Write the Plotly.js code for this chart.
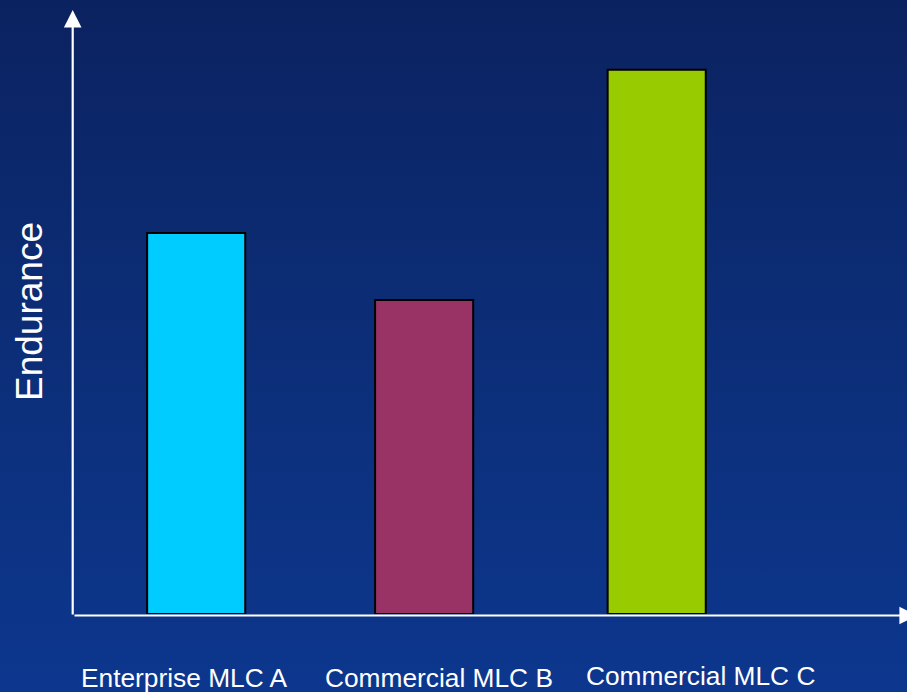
<!DOCTYPE html>
<html>
<head>
<meta charset="utf-8">
<script src="https://cdn.plot.ly/plotly-3.0.1.min.js"></script>
<style>
  html, body { margin: 0; padding: 0; width: 907px; height: 692px; overflow: hidden; }
  body { background: linear-gradient(to bottom, #0b2260 0%, #0c2e78 50%, #0c378e 100%); }
  #chart { width: 907px; height: 692px; }
</style>
</head>
<body>
<div id="chart"></div>
<script>
// Data (relative endurance, no scale given)
const categories = ['Enterprise MLC A', 'Commercial MLC B', 'Commercial MLC C'];
const endurance = [70, 57.7, 100];
const barColors = ['#00CCFF', '#993366', '#99CC00'];
const yTitle = 'Endurance';

const labelShiftX = [-12, 13, 44];
const labelShiftY = [-64, -64, -62];

const trace = {
  type: 'bar',
  x: categories,
  y: endurance,
  width: 0.426,
  offset: [-0.213, -0.223, -0.213],
  marker: { color: barColors, line: { color: '#000000', width: 2 } },
  hoverinfo: 'none',
  showlegend: false
};

const annotations = categories.map((c, i) => ({
  x: c, xref: 'x', y: 0, yref: 'paper',
  text: c, showarrow: false,
  xanchor: 'center', yanchor: 'middle',
  xshift: labelShiftX[i], yshift: labelShiftY[i],
  font: { family: 'Liberation Sans, Arial, sans-serif', size: 26.3, color: '#ffffff' }
}));

// y-axis title
annotations.push({
  x: 0, xref: 'paper', y: 0.5, yref: 'paper',
  text: yTitle, showarrow: false, textangle: -90,
  xanchor: 'center', yanchor: 'middle', xshift: -44,
  font: { family: 'Liberation Sans, Arial, sans-serif', size: 37, color: '#ffffff' }
});

// axis arrows
annotations.push({
  x: 0, xref: 'paper', y: 1, yref: 'paper', text: '', xshift: -0.3,
  showarrow: true, arrowhead: 2, arrowsize: 1.6, arrowwidth: 2.2, arrowcolor: '#ffffff',
  ax: 0, ay: 606, axref: 'pixel', ayref: 'pixel'
});
annotations.push({
  x: 1, xref: 'paper', y: 0, yref: 'paper', text: '', yshift: -1.5, xshift: 11,
  showarrow: true, arrowhead: 2, arrowsize: 1.6, arrowwidth: 2.2, arrowcolor: '#ffffff',
  ax: -845, ay: 0, axref: 'pixel', ayref: 'pixel'
});

const layout = {
  width: 907, height: 692,
  margin: { l: 73, r: 0, t: 10, b: 78 },
  paper_bgcolor: 'rgba(0,0,0,0)',
  plot_bgcolor: 'rgba(0,0,0,0)',
  xaxis: {
    type: 'category', range: [-0.535, 3.087],
    showgrid: false, zeroline: false, showline: false,
    showticklabels: false, ticks: '', fixedrange: true
  },
  yaxis: {
    range: [0, 111], showgrid: false, zeroline: false, showline: false,
    showticklabels: false, ticks: '', fixedrange: true
  },
  annotations: annotations,
  font: { family: 'Liberation Sans, Arial, sans-serif', color: '#ffffff' }
};

Plotly.newPlot('chart', [trace], layout, { displayModeBar: false, staticPlot: true });
</script>
</body>
</html>
